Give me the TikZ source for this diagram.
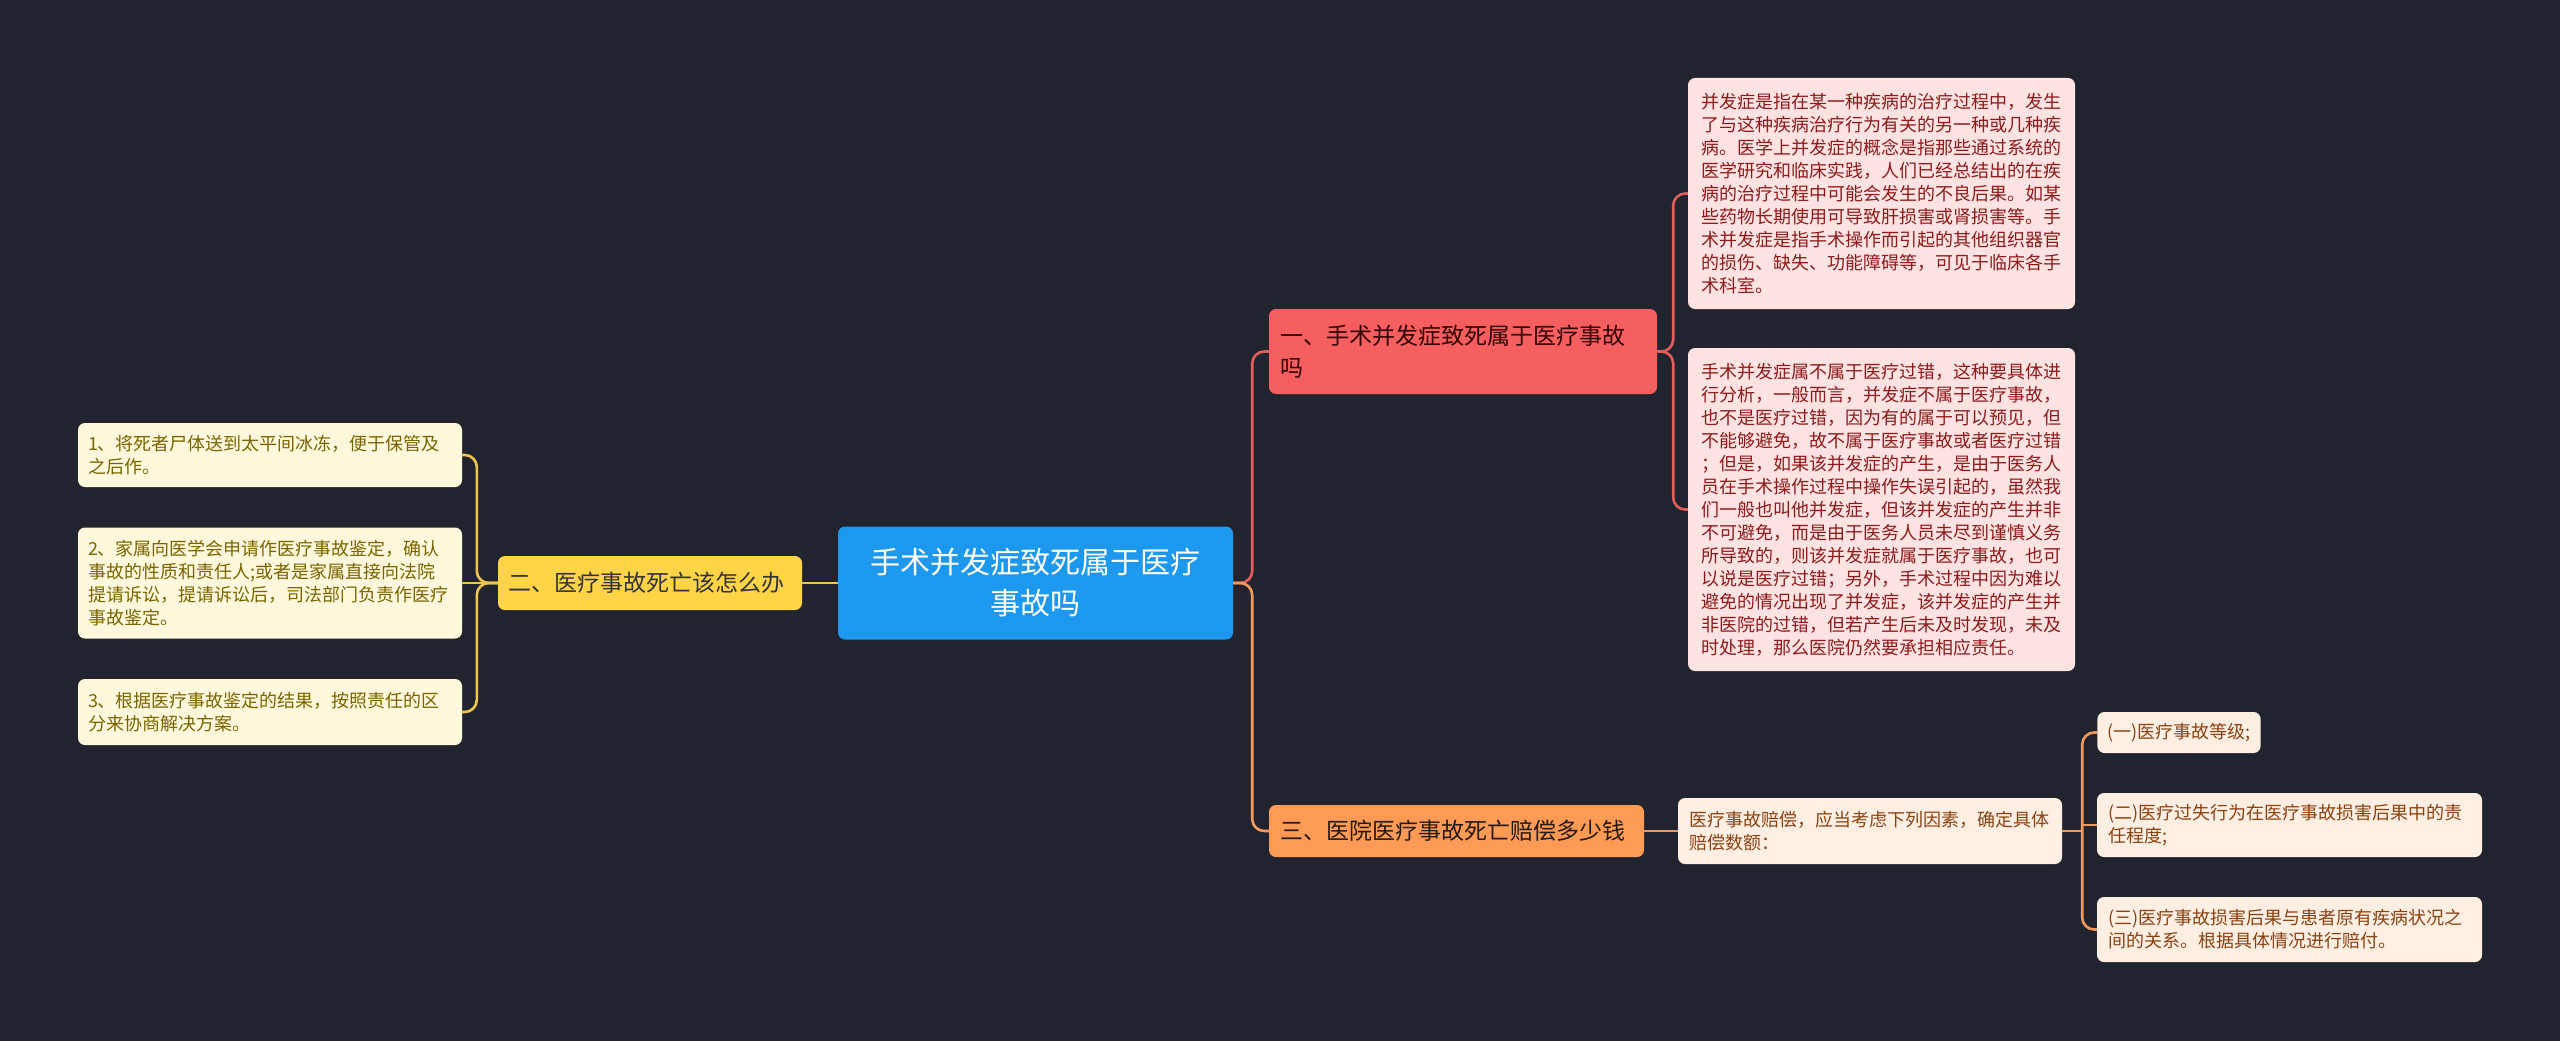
\documentclass[tikz,border=0pt]{standalone}
\usepackage{fontspec}
\setmainfont{Noto Sans CJK SC}
\definecolor{bg}{HTML}{21242E}
\definecolor{cblue}{HTML}{1C98EF}
\definecolor{cyel}{HTML}{FFD447}
\definecolor{ccream}{HTML}{FFF8DC}
\definecolor{tolive}{HTML}{7A6400}
\definecolor{cred}{HTML}{F65F5F}
\definecolor{cpink}{HTML}{FFE2E2}
\definecolor{tred}{HTML}{8E1B1B}
\definecolor{corange}{HTML}{FD9A55}
\definecolor{cpeach}{HTML}{FFEFE3}
\definecolor{tbrown}{HTML}{8A4212}
\definecolor{lyel}{HTML}{EFC44A}
\definecolor{lred}{HTML}{E35D5D}
\definecolor{lora}{HTML}{F29A5C}
\begin{document}
\begin{tikzpicture}[x=1pt,y=-1pt,
  box/.style={rounded corners=7pt, inner ysep=0pt, align=left, anchor=center},
  small/.style={font=\fontsize{18}{23}\selectfont},
  mid/.style={font=\fontsize{23}{32}\selectfont},
  big/.style={font=\fontsize{30}{41}\selectfont},
  link/.style={line width=2.6pt, rounded corners=12pt}
]
\useasboundingbox (0,0) rectangle (2560,1041);
\fill[bg] (0,0) rectangle (2560,1041);

% center
\node[box, big, fill=cblue, text=white, align=center, inner xsep=12pt,
  text width=371pt, minimum height=113pt] (root) at (1035.5,583)
  {手术并发症致死属于医疗\\事故吗};

% left branch
\node[box, mid, fill=cyel, text=black!80, inner xsep=10pt,
  text width=284pt, minimum height=54pt] (left) at (650,583)
  {二、医疗事故死亡该怎么办};

\node[box, small, fill=ccream, text=tolive, inner xsep=10pt,
  text width=364pt, minimum height=64pt] (L1) at (270,455)
  {1、将死者尸体送到太平间冰冻，便于保管及\\之后作。};
\node[box, small, fill=ccream, text=tolive, inner xsep=10pt,
  text width=364pt, minimum height=111pt] (L2) at (270,583)
  {2、家属向医学会申请作医疗事故鉴定，确认\\事故的性质和责任人;或者是家属直接向法院\\提请诉讼，提请诉讼后，司法部门负责作医疗\\事故鉴定。};
\node[box, small, fill=ccream, text=tolive, inner xsep=10pt,
  text width=364pt, minimum height=66pt] (L3) at (270,712)
  {3、根据医疗事故鉴定的结果，按照责任的区\\分来协商解决方案。};

% right branch 1
\node[box, mid, fill=cred, text=black!80!red, inner xsep=11pt,
  text width=366pt, minimum height=85pt] (B1) at (1463,351.5)
  {一、手术并发症致死属于医疗事故\\吗};

\node[box, small, fill=cpink, text=tred, inner xsep=13pt,
  text width=361pt, minimum height=231pt] (A1) at (1881.5,193.5)
  {并发症是指在某一种疾病的治疗过程中，发生\\了与这种疾病治疗行为有关的另一种或几种疾\\病。医学上并发症的概念是指那些通过系统的\\医学研究和临床实践，人们已经总结出的在疾\\病的治疗过程中可能会发生的不良后果。如某\\些药物长期使用可导致肝损害或肾损害等。手\\术并发症是指手术操作而引起的其他组织器官\\的损伤、缺失、功能障碍等，可见于临床各手\\术科室。};
\node[box, small, fill=cpink, text=tred, inner xsep=13pt,
  text width=361pt, minimum height=323pt] (A2) at (1881.5,509.5)
  {手术并发症属不属于医疗过错，这种要具体进\\行分析，一般而言，并发症不属于医疗事故，\\也不是医疗过错，因为有的属于可以预见，但\\不能够避免，故不属于医疗事故或者医疗过错\\；但是，如果该并发症的产生，是由于医务人\\员在手术操作过程中操作失误引起的，虽然我\\们一般也叫他并发症，但该并发症的产生并非\\不可避免，而是由于医务人员未尽到谨慎义务\\所导致的，则该并发症就属于医疗事故，也可\\以说是医疗过错；另外，手术过程中因为难以\\避免的情况出现了并发症，该并发症的产生并\\非医院的过错，但若产生后未及时发现，未及\\时处理，那么医院仍然要承担相应责任。};

% right branch 3
\node[box, mid, fill=corange, text=black!80!brown, inner xsep=11pt,
  text width=353pt, minimum height=52pt] (B3) at (1456.5,831)
  {三、医院医疗事故死亡赔偿多少钱};

\node[box, small, fill=cpeach, text=tbrown, inner xsep=11pt,
  text width=362pt, minimum height=66pt] (P) at (1870,831)
  {医疗事故赔偿，应当考虑下列因素，确定具体\\赔偿数额：};

\node[box, small, fill=cpeach, text=tbrown, inner xsep=10pt,
  minimum width=163pt, minimum height=41pt] (C1) at (2179,732.5)
  {(一)医疗事故等级;};
\node[box, small, fill=cpeach, text=tbrown, inner xsep=11pt,
  text width=363pt, minimum height=64pt] (C2) at (2289.5,825)
  {(二)医疗过失行为在医疗事故损害后果中的责\\任程度;};
\node[box, small, fill=cpeach, text=tbrown, inner xsep=11pt,
  text width=363pt, minimum height=65pt] (C3) at (2289.5,929.5)
  {(三)医疗事故损害后果与患者原有疾病状况之\\间的关系。根据具体情况进行赔付。};

% junction points
\coordinate (lj) at ([xshift=-21pt]left.west);
\coordinate (rj) at ([xshift=19pt]root.east);
\coordinate (aj) at ([xshift=16pt]B1.east);
\coordinate (pj) at ([xshift=20pt]P.east);

% connectors
\draw[link, lyel] (root.west) -- (left.east);
\draw[link, lyel] (left.west) -- (lj) |- (L1.east);
\draw[link, lyel] (left.west) -- (lj) |- (L3.east);
\draw[link, lyel] (left.west) -- (L2.east);

\draw[link, lred] (root.east) -- (rj) |- (B1.west);
\draw[link, lora] (root.east) -- (rj) |- (B3.west);

\draw[link, lred] (B1.east) -- (aj) |- (A1.west);
\draw[link, lred] (B1.east) -- (aj) |- (A2.west);

\draw[link, lora] (B3.east) -- (P.west);
\draw[link, lora] (P.east) -- (pj);
\draw[link, lora] (C1.west) -| (pj) |- (C3.west);
\draw[link, lora] (pj |- C2.west) -- (C2.west);
\end{tikzpicture}
\end{document}
